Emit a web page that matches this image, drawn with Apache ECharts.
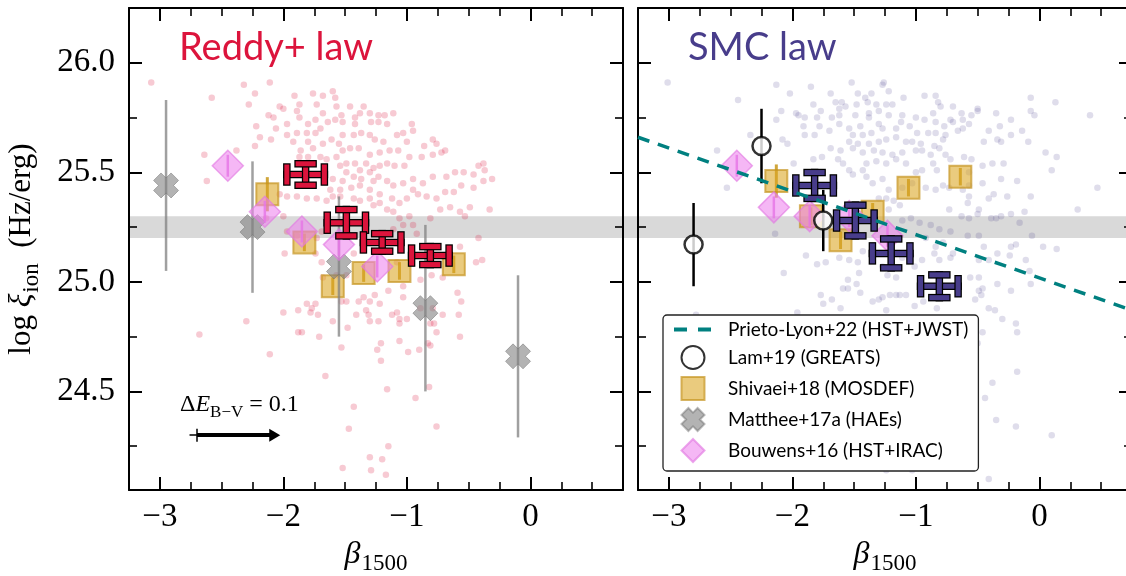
<!DOCTYPE html>
<html>
<head>
<meta charset="utf-8">
<script src="https://cdn.jsdelivr.net/npm/echarts@6/dist/echarts.min.js"></script>
<style>
  html, body { margin: 0; padding: 0; background: #fff; }
  #chart { width: 1126px; height: 576px; }
</style>
</head>
<body>
<div id="chart"></div>
<script>
// ---------------- data ----------------
const xTicks = [-3, -2, -1, 0];
const yTicks = [24.5, 25.0, 25.5, 26.0];
const xRange = [-3.25, 0.75];
const yRange = [24.05, 26.25];
const refBand = [25.2, 25.3];

// individual galaxies, Reddy+ attenuation law  [beta, log xi_ion]
const reddyGalaxies = [
  [-3.07,25.91],[-2.32,25.90],[-2.11,25.91],[-2.23,25.86],[-2.58,25.84],[-2.28,25.81],[-1.91,25.85],[-1.76,25.86],
  [-1.68,25.85],[-1.87,25.81],[-1.73,25.81],[-1.58,25.84],[-1.60,25.87],[-1.89,25.78],[-2.03,25.80],[-2.00,25.79],
  [-2.12,25.76],[-2.08,25.75],[-2.22,25.71],[-2.06,25.70],[-1.97,25.72],[-1.87,25.75],[-1.80,25.72],[-1.74,25.74],
  [-1.68,25.77],[-1.57,25.80],[-1.53,25.76],[-1.46,25.80],[-1.42,25.75],[-1.38,25.77],[-1.35,25.80],[-1.30,25.77],
  [-1.23,25.76],[-1.18,25.76],[-1.11,25.77],[-1.16,25.72],[-1.23,25.73],[-1.29,25.73],[-1.42,25.72],[-1.52,25.73],
  [-1.58,25.74],[-1.64,25.73],[-1.70,25.70],[-1.74,25.68],[-1.81,25.68],[-1.89,25.68],[-1.97,25.67],[-2.19,25.66],
  [-2.10,25.65],[-2.23,25.62],[-1.92,25.64],[-1.86,25.60],[-1.80,25.64],[-1.76,25.61],[-1.68,25.63],[-1.61,25.65],
  [-1.55,25.63],[-1.52,25.67],[-1.43,25.67],[-1.37,25.68],[-1.30,25.67],[-1.26,25.65],[-1.19,25.64],[-1.08,25.67],
  [-1.03,25.68],[-0.96,25.72],[-0.95,25.69],[-1.00,25.64],[-1.07,25.60],[-1.14,25.60],[-1.22,25.59],[-1.30,25.58],
  [-1.39,25.61],[-1.46,25.61],[-1.52,25.60],[-1.57,25.57],[-1.65,25.56],[-1.70,25.57],[-1.80,25.57],[-1.87,25.57],
  [-2.38,25.60],[-2.64,25.58],[-2.62,25.46],[-0.86,25.62],[-0.79,25.65],[-0.76,25.63],[-0.72,25.59],[-0.69,25.60],
  [-0.79,25.58],[-0.88,25.57],[-0.98,25.57],[-1.02,25.53],[-1.10,25.53],[-1.16,25.54],[-1.22,25.53],[-1.27,25.52],
  [-1.33,25.54],[-1.42,25.54],[-1.49,25.54],[-1.54,25.53],[-1.49,25.50],[-1.38,25.51],[-1.30,25.50],[-1.23,25.48],
  [-1.16,25.46],[-1.27,25.46],[-1.37,25.47],[-1.43,25.48],[-1.52,25.46],[-1.60,25.47],[-1.62,25.42],[-1.54,25.42],
  [-1.45,25.43],[-1.38,25.44],[-1.30,25.42],[-1.22,25.40],[-1.11,25.44],[-1.03,25.45],[-0.95,25.47],[-0.87,25.45],
  [-0.79,25.48],[-0.68,25.48],[-0.61,25.50],[-0.54,25.50],[-0.46,25.49],[-0.42,25.53],[-0.38,25.54],[-0.38,25.46],
  [-0.31,25.47],[-0.37,25.51],[-0.46,25.43],[-0.56,25.44],[-0.62,25.41],[-0.69,25.41],[-0.76,25.38],[-0.84,25.39],
  [-0.91,25.40],[-0.95,25.42],[-1.00,25.38],[-1.06,25.36],[-1.12,25.38],[-1.22,25.36],[-1.27,25.35],[-1.30,25.38],
  [-1.38,25.37],[-1.43,25.38],[-1.54,25.39],[-1.60,25.39],[-1.65,25.37],[-2.03,25.40],[-1.97,25.39],[-1.89,25.39],
  [-1.81,25.38],[-1.73,25.38],[-2.00,25.30],[-2.14,25.29],[-0.73,25.33],[-0.65,25.34],[-0.57,25.32],[-0.49,25.34],
  [-0.33,25.33],[-0.53,25.30],[-0.81,25.29],[-0.98,25.30],[-1.06,25.29],[-1.11,25.32],[-1.16,25.33],[-0.95,25.26],
  [-1.03,25.26],[-1.11,25.24],[-0.92,25.22],[-1.65,25.25],[-1.69,25.23],[-1.73,25.20],[-1.89,25.21],[-1.97,25.23],
  [-1.99,25.13],[-1.74,25.13],[-1.69,25.09],[-1.43,25.13],[-1.06,25.17],[-0.57,25.16],[-0.42,25.20],[-0.44,25.09],
  [-0.39,25.10],[-1.08,25.09],
  [-1.68,25.02],[-1.57,25.03],[-1.49,25.03],[-0.89,25.01],[-0.80,25.03],[-0.71,25.02],[-0.59,24.95],[-0.56,24.91],
  [-1.53,24.91],[-1.49,24.91],[-1.39,24.91],[-1.35,24.93],[-1.26,24.94],[-1.30,24.91],[-1.22,24.90],[-1.15,24.96],
  [-1.03,24.98],[-1.03,24.93],[-1.81,24.90],[-1.77,24.88],[-1.74,24.90],[-1.88,24.87],[-1.78,24.86],[-1.72,24.85],
  [-2.00,24.86],[-2.30,24.82],[-1.60,24.82],[-1.41,24.85],[-1.33,24.87],[-1.31,24.85],[-1.30,24.82],[-1.23,24.82],
  [-1.12,24.85],[-1.08,24.86],[-1.06,24.83],[-1.06,24.81],[-1.00,24.83],[-0.89,24.88],[-0.79,24.88],[-0.71,24.85],
  [-0.58,24.85],[-0.81,24.81],[-0.78,24.81],[-0.76,24.77],[-2.68,24.76],[-1.88,24.77],[-1.85,24.77],[-1.71,24.75],
  [-1.48,24.79],[-1.53,24.70],[-1.24,24.69],[-1.21,24.72],[-1.21,24.64],[-1.06,24.73],[-0.99,24.68],[-0.90,24.69],
  [-0.83,24.72],[-0.81,24.71],[-0.57,24.75],[-2.11,24.67],[-1.66,24.57],[-1.16,24.51],[-0.93,24.47],[-0.82,24.52],
  [-1.43,24.43],[-1.47,24.33],[-0.76,24.34],[-1.15,24.25],[-1.30,24.20],[-1.20,24.19],[-1.52,24.15],[-1.29,24.14],
  [-1.17,24.12]
];

// individual galaxies, SMC attenuation law  [beta, log xi_ion]
const smcGalaxies = [
  [-3.01,25.91],[-2.13,25.90],[-1.85,25.89],[-1.52,25.91],[-1.27,25.90],[-1.26,25.91],[-1.22,25.87],[-2.02,25.86],
  [-1.69,25.86],[-1.47,25.86],[-1.41,25.84],[-1.36,25.86],[-1.10,25.84],[-0.93,25.85],[-0.84,25.85],[-0.07,25.84],
  [0.13,25.82],[0.41,25.76],[-2.44,25.83],[-2.09,25.78],[-1.97,25.77],[-1.95,25.76],[-1.83,25.81],[-1.77,25.78],
  [-1.65,25.82],[-1.60,25.82],[-1.62,25.79],[-1.57,25.80],[-1.48,25.81],[-1.39,25.82],[-1.32,25.81],[-1.24,25.81],
  [-1.19,25.81],[-1.30,25.78],[-1.38,25.77],[-1.49,25.76],[-1.62,25.76],[-1.68,25.75],[-1.80,25.75],[-1.90,25.75],
  [-2.13,25.74],[-1.78,25.71],[-1.70,25.69],[-1.62,25.72],[-1.54,25.70],[-1.45,25.71],[-1.38,25.75],[-1.30,25.72],
  [-1.22,25.76],[-1.11,25.76],[-1.12,25.73],[-1.00,25.75],[-0.93,25.74],[-0.86,25.77],[-0.82,25.82],[-0.80,25.80],
  [-0.70,25.80],[-0.63,25.77],[-0.55,25.76],[-0.50,25.79],[-0.50,25.78],[-0.35,25.77],[-0.23,25.74],[-0.07,25.78],
  [-0.04,25.76],[-0.84,25.73],[-0.77,25.71],[-0.72,25.74],[-0.70,25.73],[-0.62,25.74],[-0.57,25.72],[-0.32,25.71],
  [-0.41,25.69],[-0.23,25.67],[-0.14,25.69],[-0.09,25.64],[0.05,25.59],[0.14,25.57],[0.10,25.51],[0.47,25.43],
  [0.31,25.33],[-0.62,25.70],[-0.66,25.69],[-0.76,25.67],[-0.84,25.68],[-0.90,25.68],[-0.99,25.68],[-1.05,25.71],
  [-1.16,25.70],[-1.27,25.70],[-1.36,25.68],[-1.43,25.67],[-1.51,25.67],[-1.54,25.64],[-1.47,25.63],[-1.38,25.63],
  [-1.30,25.64],[-1.24,25.65],[-1.16,25.66],[-1.08,25.64],[-1.03,25.64],[-0.96,25.63],[-0.85,25.62],[-0.78,25.65],
  [-0.81,25.61],[-0.88,25.58],[-0.95,25.60],[-1.00,25.60],[-1.11,25.59],[-1.19,25.58],[-1.27,25.59],[-1.34,25.60],
  [-1.43,25.59],[-1.51,25.61],[-1.61,25.60],[-1.69,25.61],[-1.76,25.57],[-1.83,25.56],[-1.90,25.67],[-1.82,25.67],
  [-1.91,25.71],[-2.04,25.63],[-2.08,25.65],[-2.34,25.67],[-2.61,25.60],[-1.99,25.54],[-1.63,25.56],[-1.59,25.54],
  [-1.54,25.51],[-1.51,25.49],[-1.43,25.51],[-1.40,25.54],[-1.32,25.55],[-1.24,25.54],[-1.16,25.56],[-1.08,25.54],
  [-1.00,25.50],[-0.95,25.51],[-0.86,25.54],[-0.83,25.51],[-0.76,25.58],[-0.72,25.56],[-0.61,25.57],[-0.55,25.56],
  [-0.45,25.64],[-0.34,25.65],[-0.31,25.64],[-0.46,25.45],[-0.37,25.40],[-0.31,25.47],[-0.26,25.39],[-0.18,25.46],
  [-0.07,25.39],[-0.29,25.54],[-0.38,25.54],[-0.46,25.53],[-0.57,25.50],[-0.57,25.44],[-0.62,25.42],[-0.73,25.43],
  [-0.78,25.44],[-0.84,25.42],[-0.92,25.43],[-1.03,25.45],[-1.11,25.43],[-1.22,25.42],[-1.27,25.47],[-1.35,25.45],
  [-1.40,25.48],[-1.30,25.38],[-1.22,25.33],[-1.13,25.35],[-1.18,25.37],[-1.24,25.38],[-0.57,25.39],[-0.58,25.36],
  [-0.49,25.33],[-0.41,25.38],[-0.73,25.33],[-0.63,25.30],[-0.57,25.29],[-0.50,25.31],[-0.39,25.29],[-0.35,25.29],
  [-0.31,25.30],[-0.23,25.31],[-0.16,25.27],[-0.12,25.32],[-0.06,25.21],[-0.19,25.17],[-0.23,25.16],[0.03,25.16],
  [0.14,25.15],[-0.45,25.16],[-0.49,25.21],[-0.58,25.21],[-0.72,25.23],[-0.81,25.24],[-0.88,25.26],[-0.97,25.27],
  [-1.04,25.29],[-1.11,25.28],[-0.92,25.20],[-0.84,25.16],[-0.78,25.18],[-0.70,25.13],[-0.72,25.11],[-0.81,25.10],
  [-0.85,25.13],[-0.95,25.10],[-1.04,25.12],[-1.11,25.11],[-1.43,25.14],[-1.47,25.09],[-1.54,25.10],[-1.62,25.11],
  [-1.73,25.09],[-1.80,25.08],[-1.89,25.12],[-2.14,25.22],[-2.53,25.43],[-0.49,25.10],[-0.41,25.10],[-0.34,25.13],
  [-0.24,25.12],[-0.11,25.10],[-0.08,25.05],[-1.01,25.07],[-1.27,25.07],
  [-2.07,25.04],[-1.55,25.01],[-1.46,25.04],[-1.16,25.02],[-1.23,25.03],[-1.59,24.97],[-1.55,24.97],[-1.48,24.99],
  [-1.45,24.95],[-1.77,24.94],[-1.75,24.90],[-1.68,24.92],[-1.61,24.88],[-1.35,24.91],[-1.30,24.92],[-1.27,24.93],
  [-1.21,24.94],[-1.16,24.94],[-1.13,24.94],[-1.08,24.94],[-1.24,24.87],[-1.01,24.89],[-0.94,24.91],[-0.83,24.88],
  [-0.47,24.94],[-0.52,24.92],[-0.49,24.96],[-0.46,24.97],[-0.34,24.99],[-0.23,24.96],[-0.07,24.99],[-0.49,25.02],
  [-0.56,25.02],[-0.41,24.88],[-0.36,24.87],[-0.30,24.83],[-0.19,24.81],[-0.18,24.77],[-0.46,24.77],[-0.18,24.59],
  [-0.38,24.54],[-0.44,24.47],[-0.35,24.37],[-0.19,24.34],[0.10,24.30],[-1.24,24.14],[-1.03,24.14],[-0.41,24.10],
  [-2.78,24.85],[-1.96,24.86],[-0.50,24.72]
];

// binned medians  [beta, log xi_ion, beta err, xi err]
const reddyBins = [[-1.82,25.49,0.152,0.049],[-1.49,25.27,0.155,0.060],[-1.20,25.18,0.152,0.040],[-0.81,25.12,0.152,0.041]];
const smcBins   = [[-1.82,25.44,0.152,0.059],[-1.49,25.28,0.152,0.070],[-1.20,25.13,0.152,0.066],[-0.81,24.98,0.152,0.052]];

// literature samples
const mattheeHAE = [[-2.95,25.44,0.39],[-2.25,25.25,0.30],[-1.55,25.07,0.32],[-0.85,24.88,0.38],[-0.10,24.66,0.37]];
const bouwensReddy = [[-2.45,25.53,0.05],[-2.15,25.32,0.05],[-1.85,25.23,0.05],[-1.55,25.17,0.05],[-1.24,25.07,0.05]];
const bouwensSmc   = [[-2.45,25.53,0.05],[-2.15,25.34,0.05],[-1.86,25.30,0.05],[-1.54,25.30,0.05],[-1.23,25.21,0.05]];
const shivaeiReddy = [[-2.13,25.40,0.078],[-1.83,25.18,0.04],[-1.60,24.98,0.04],[-1.35,25.04,0.04],[-1.06,25.05,0.04],[-0.62,25.08,0.04]];
const shivaeiSmc   = [[-2.13,25.46,0.076],[-1.85,25.30,0.04],[-1.61,25.19,0.04],[-1.35,25.32,0.04],[-1.06,25.43,0.04],[-0.64,25.48,0.04]];
const lamGreats    = [[-2.80,25.17,0.19],[-2.25,25.62,0.17],[-1.75,25.28,0.14]];
const prietoLyon   = [[-3.25,25.66],[0.75,24.87]];

// dust-vector annotation: tail start, tail tick, arrow tip (beta), at fixed xi
const dustVector = { y: 24.30, tail: -2.76, start: -2.70, tip: -2.07 };

// ---------------- styling ----------------
const SERIF = '"Liberation Serif", "DejaVu Serif", serif';
const SANS = 'Lato, "Open Sans", sans-serif';
const CRIMSON = '#DC143C';
const SLATE = '#483D8B';
const TEAL = '#008080';
const NAMES = {
  prieto: 'Prieto-Lyon+22 (HST+JWST)',
  lam: 'Lam+19 (GREATS)',
  shivaei: 'Shivaei+18 (MOSDEF)',
  matthee: 'Matthee+17a (HAEs)',
  bouwens: 'Bouwens+16 (HST+IRAC)'
};
const X_MARKER = 'path://M3,0 L5,2 L7,0 L10,3 L8,5 L10,7 L7,10 L5,8 L3,10 L0,7 L2,5 L0,3 Z';
const SQUARE_ICON = 'path://M0,0 L10,0 L10,10 L0,10 Z';
const DIAMOND_ICON = 'path://M5,0 L10,5 L5,10 L0,5 Z';

const near = (v, list) => list.some(t => Math.abs(t - v) < 1e-6);
const fmtX = v => near(v, xTicks) ? (v < 0 ? '\u2212' + Math.abs(v) : String(v)) : '';
const fmtY = v => near(v, yTicks) ? v.toFixed(1) : '';

// math-style rich text: the subscript is pushed down by top padding
const mathRich = {
  r: { fontFamily: SERIF, fontSize: 31, color: '#000', verticalAlign: 'top' },
  i: { fontFamily: SERIF, fontSize: 32, fontStyle: 'italic', color: '#000', verticalAlign: 'top' },
  s: { fontFamily: SERIF, fontSize: 23, color: '#000', verticalAlign: 'top', padding: [14, 0, 0, 1] }
};

function xAxis(gridIndex, position, labels) {
  return {
    type: 'value', gridIndex, position, min: xRange[0], max: xRange[1],
    splitNumber: 4, minInterval: 1, maxInterval: 1,
    axisLine: { show: true, onZero: false, lineStyle: { color: '#000', width: 2 } },
    axisTick: { show: true, inside: true, length: 13, lineStyle: { color: '#000', width: 2 } },
    minorTick: { show: true, splitNumber: 4, length: 8, lineStyle: { color: '#000', width: 1.6 } },
    splitLine: { show: false }, minorSplitLine: { show: false },
    axisLabel: { show: labels, margin: 11, fontFamily: SERIF, fontSize: 33, color: '#000', formatter: fmtX },
    name: labels ? '{i|\u03b2}{s|1500}' : '',
    nameLocation: 'middle', nameGap: 43,
    nameTextStyle: { rich: mathRich }
  };
}
function yAxis(gridIndex, position, labels, named) {
  return {
    type: 'value', gridIndex, position, min: yRange[0], max: yRange[1],
    splitNumber: 5, minInterval: 0.5, maxInterval: 0.5,
    axisLine: { show: true, onZero: false, lineStyle: { color: '#000', width: 2 } },
    axisTick: { show: true, inside: true, length: 13, lineStyle: { color: '#000', width: 2 } },
    minorTick: { show: true, splitNumber: 2, length: 8, lineStyle: { color: '#000', width: 1.6 } },
    splitLine: { show: false }, minorSplitLine: { show: false },
    axisLabel: { show: labels, margin: 14, fontFamily: SERIF, fontSize: 33, color: '#000', formatter: fmtY },
    name: named ? '{r|log }{i|\u03be}{s|ion}{r|  (Hz/erg)}' : '',
    nameLocation: 'middle', nameGap: 86, nameRotate: 90,
    nameTextStyle: { rich: mathRich }
  };
}

// vertical / horizontal error bars: rows are [x, y, xerr, yerr]
function errorBars(rows, xi, yi, color, width, z) {
  return {
    type: 'custom', xAxisIndex: xi, yAxisIndex: yi, z, silent: true,
    dimensions: ['x', 'y', 'xe', 'ye'], encode: { x: 0, y: 1 },
    data: rows,
    renderItem(params, api) {
      const x = api.value(0), y = api.value(1), xe = api.value(2), ye = api.value(3);
      const kids = [];
      if (ye > 0) {
        const a = api.coord([x, y - ye]), b = api.coord([x, y + ye]);
        kids.push({ type: 'line', shape: { x1: a[0], y1: a[1], x2: b[0], y2: b[1] }, style: { stroke: color, lineWidth: width } });
      }
      if (xe > 0) {
        const a = api.coord([x - xe, y]), b = api.coord([x + xe, y]);
        kids.push({ type: 'line', shape: { x1: a[0], y1: a[1], x2: b[0], y2: b[1] }, style: { stroke: color, lineWidth: width } });
      }
      return { type: 'group', children: kids };
    }
  };
}

// binned points drawn as thick capped error crosses with a dark outline
function binCrosses(rows, xi, yi, color) {
  const CAP = 7.5;
  return {
    type: 'custom', xAxisIndex: xi, yAxisIndex: yi, z: 7, silent: true,
    dimensions: ['x', 'y', 'xe', 'ye'], encode: { x: 0, y: 1 },
    data: rows,
    renderItem(params, api) {
      const x = api.value(0), y = api.value(1), xe = api.value(2), ye = api.value(3);
      const c = api.coord([x, y]);
      const l = api.coord([x - xe, y])[0], r = api.coord([x + xe, y])[0];
      const t = api.coord([x, y + ye])[1], b = api.coord([x, y - ye])[1];
      const groups = [
        [[l, c[1], r, c[1]]],
        [[c[0], t, c[0], b]],
        [[l, c[1] - CAP, l, c[1] + CAP], [r, c[1] - CAP, r, c[1] + CAP],
         [c[0] - CAP, t, c[0] + CAP, t], [c[0] - CAP, b, c[0] + CAP, b]]
      ];
      const kids = [];
      groups.forEach(segs => {
        segs.forEach(s => kids.push({ type: 'line', shape: { x1: s[0], y1: s[1], x2: s[2], y2: s[3] },
          style: { stroke: '#000', lineWidth: 7.5, lineCap: 'square' } }));
        segs.forEach(s => kids.push({ type: 'line', shape: { x1: s[0], y1: s[1], x2: s[2], y2: s[3] },
          style: { stroke: color, lineWidth: 5, lineCap: 'square' } }));
      });
      return { type: 'group', children: kids };
    }
  };
}

const pts = rows => rows.map(r => [r[0], r[1]]);
const vErr = rows => rows.map(r => [r[0], r[1], 0, r[2]]);

const shivaeiStyle = { color: 'rgba(218,165,32,0.72)', borderColor: 'rgba(196,146,30,0.85)', borderWidth: 2 };
const bouwensStyle = { color: 'rgba(238,130,238,0.72)', borderColor: 'rgba(226,120,226,0.8)', borderWidth: 1.5 };
const mattheeStyle = { color: 'rgba(128,128,128,0.75)', borderColor: 'rgba(110,110,110,0.6)', borderWidth: 1 };

const series = [
  // ---- left panel: Reddy+ law ----
  { type: 'scatter', xAxisIndex: 0, yAxisIndex: 0, z: 1, silent: true, symbolSize: 6.5,
    itemStyle: { color: 'rgba(220,20,60,0.28)' }, data: reddyGalaxies,
    markLine: {
      silent: true, animation: false, label: { show: false },
      symbol: ['none', 'none'],
      data: [
        [{ coord: [dustVector.tail, dustVector.y], lineStyle: { color: '#000', width: 1.5, type: 'solid' } },
         { coord: [dustVector.start, dustVector.y] }],
        [{ coord: [dustVector.start, dustVector.y - 0.03], lineStyle: { color: '#000', width: 1.5, type: 'solid' } },
         { coord: [dustVector.start, dustVector.y + 0.03] }],
        [{ coord: [dustVector.start, dustVector.y], lineStyle: { color: '#000', width: 4, type: 'solid' } },
         { coord: [dustVector.tip, dustVector.y], symbol: 'triangle', symbolSize: [13, 11] }]
      ]
    }
  },
  errorBars(vErr(shivaeiReddy), 0, 0, 'rgba(200,150,25,0.85)', 3, 3),
  { type: 'scatter', name: NAMES.shivaei, xAxisIndex: 0, yAxisIndex: 0, z: 3, symbol: 'rect', symbolSize: 22,
    itemStyle: shivaeiStyle, data: pts(shivaeiReddy) },
  errorBars(vErr(mattheeHAE), 0, 0, 'rgba(128,128,128,0.75)', 2.5, 4),
  { type: 'scatter', name: NAMES.matthee, xAxisIndex: 0, yAxisIndex: 0, z: 4, symbol: X_MARKER, symbolSize: 25,
    itemStyle: mattheeStyle, data: pts(mattheeHAE) },
  errorBars(vErr(bouwensReddy), 0, 0, 'rgba(220,100,220,0.8)', 2.5, 5),
  { type: 'scatter', name: NAMES.bouwens, xAxisIndex: 0, yAxisIndex: 0, z: 5, symbol: 'diamond', symbolSize: 31,
    itemStyle: bouwensStyle, data: pts(bouwensReddy) },
  binCrosses(reddyBins, 0, 0, CRIMSON),

  // ---- right panel: SMC law ----
  { type: 'scatter', xAxisIndex: 2, yAxisIndex: 2, z: 1, silent: true, symbolSize: 6.5,
    itemStyle: { color: 'rgba(72,61,139,0.22)' }, data: smcGalaxies },
  errorBars(vErr(shivaeiSmc), 2, 2, 'rgba(200,150,25,0.85)', 3, 3),
  { type: 'scatter', name: NAMES.shivaei, xAxisIndex: 2, yAxisIndex: 2, z: 3, symbol: 'rect', symbolSize: 22,
    itemStyle: shivaeiStyle, data: pts(shivaeiSmc) },
  errorBars(vErr(bouwensSmc), 2, 2, 'rgba(220,100,220,0.8)', 2.5, 5),
  { type: 'scatter', name: NAMES.bouwens, xAxisIndex: 2, yAxisIndex: 2, z: 5, symbol: 'diamond', symbolSize: 31,
    itemStyle: bouwensStyle, data: pts(bouwensSmc) },
  errorBars(vErr(lamGreats), 2, 2, '#000', 2.5, 6),
  { type: 'scatter', name: NAMES.lam, xAxisIndex: 2, yAxisIndex: 2, z: 6, symbol: 'circle', symbolSize: 18,
    itemStyle: { color: '#fff', borderColor: '#000', borderWidth: 2.5 }, data: pts(lamGreats) },
  binCrosses(smcBins, 2, 2, SLATE),
  { type: 'line', name: NAMES.prieto, xAxisIndex: 2, yAxisIndex: 2, z: 8, silent: true, symbol: 'none',
    lineStyle: { color: TEAL, width: 3.5, type: [12, 9] }, itemStyle: { color: TEAL },
    data: prietoLyon }
];

const option = {
  animation: false,
  backgroundColor: '#fff',
  title: [
    { text: 'Reddy+ law', left: 179, top: 29, padding: 0,
      textStyle: { fontFamily: SANS, fontSize: 38, fontWeight: 'normal', color: CRIMSON } },
    { text: 'SMC law', left: 688, top: 29, padding: 0,
      textStyle: { fontFamily: SANS, fontSize: 38, fontWeight: 'normal', color: SLATE } }
  ],
  grid: [
    { left: 129, top: 8, width: 494, height: 482, outerBoundsMode: 'none', containLabel: false },
    { left: 638, top: 8, width: 494, height: 482, outerBoundsMode: 'none', containLabel: false }
  ],
  xAxis: [xAxis(0, 'bottom', true), xAxis(0, 'top', false), xAxis(1, 'bottom', true), xAxis(1, 'top', false)],
  yAxis: [yAxis(0, 'left', true, true), yAxis(0, 'right', false, false), yAxis(1, 'left', false, false), yAxis(1, 'right', false, false)],
  legend: {
    orient: 'vertical', left: 663, top: 315, z: 20,
    data: [
      { name: NAMES.prieto, itemStyle: { opacity: 0 }, lineStyle: { color: TEAL, width: 4, type: [13, 11] } },
      NAMES.lam,
      { name: NAMES.shivaei, icon: SQUARE_ICON },
      NAMES.matthee,
      { name: NAMES.bouwens, icon: DIAMOND_ICON }
    ],
    symbolKeepAspect: true,
    itemWidth: 38, itemHeight: 23, itemGap: 6,
    padding: [5, 10, 8, 9],
    backgroundColor: '#fff', borderColor: '#222', borderWidth: 1.3, borderRadius: 4,
    selectedMode: false,
    textStyle: { fontFamily: SANS, fontSize: 19, color: '#000', padding: [0, 0, 0, 11] }
  },
  graphic: [
    { id: 'dustLabel', type: 'text', left: 180, top: 393, z: 10,
      style: {
        text: '{r|\u0394}{i|E}{s|B\u2212V}{r| = 0.1}',
        rich: {
          r: { fontFamily: SERIF, fontSize: 24, fill: '#000', verticalAlign: 'top' },
          i: { fontFamily: SERIF, fontSize: 24, fontStyle: 'italic', fill: '#000', verticalAlign: 'top' },
          s: { fontFamily: SERIF, fontSize: 17, fill: '#000', verticalAlign: 'top', padding: [11, 0, 0, 0] }
        }
      }
    }
  ],
  series
};

const chart = echarts.init(document.getElementById('chart'), null, { renderer: 'canvas' });
chart.setOption(option);

// reference band spanning both panels, placed through the axes' own scales
const bandTop = chart.convertToPixel({ xAxisIndex: 0, yAxisIndex: 0 }, [xRange[0], refBand[1]]);
const bandBottom = chart.convertToPixel({ xAxisIndex: 2, yAxisIndex: 2 }, [xRange[1], refBand[0]]);
chart.setOption({
  graphic: [{
    id: 'refBand', type: 'rect', z: -5, silent: true,
    shape: { x: bandTop[0], y: bandTop[1], width: bandBottom[0] - bandTop[0], height: bandBottom[1] - bandTop[1] },
    style: { fill: '#d9d9d9' }
  }]
});
</script>
</body>
</html>
